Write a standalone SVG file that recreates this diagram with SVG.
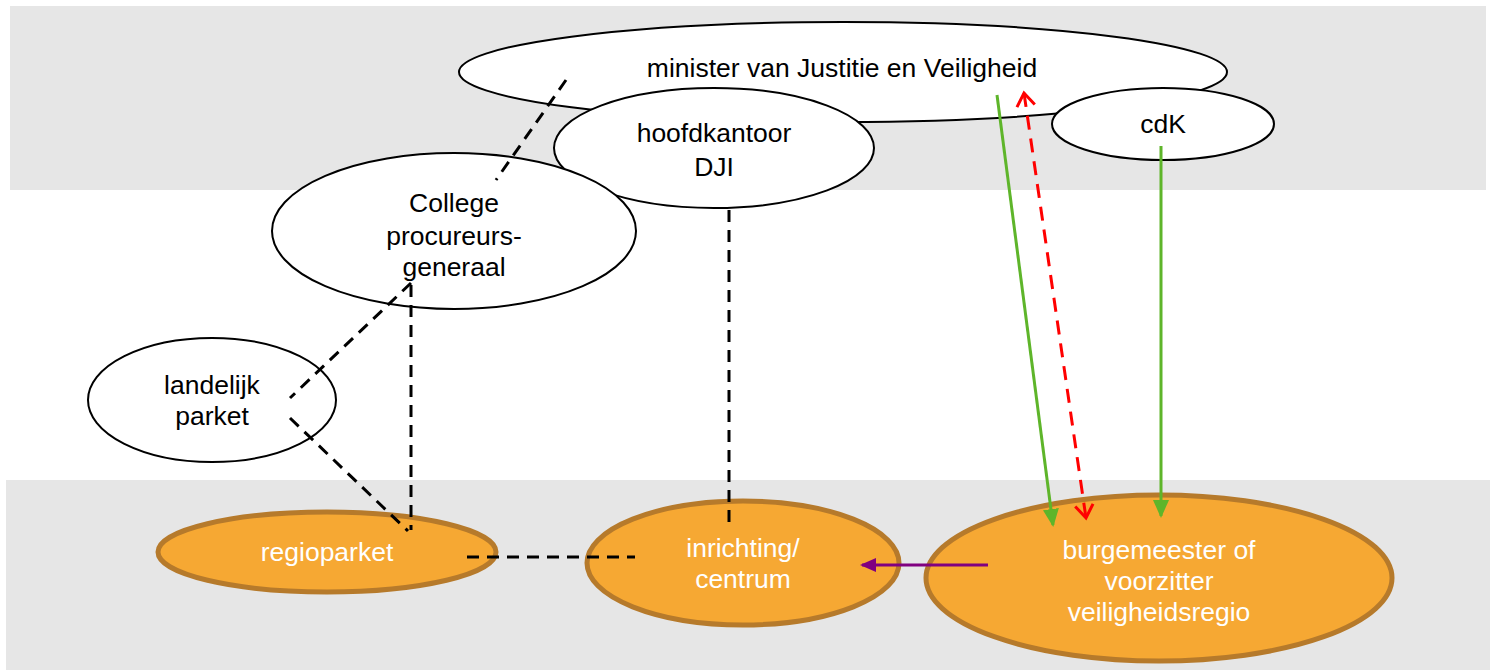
<svg xmlns="http://www.w3.org/2000/svg" width="1496" height="670" viewBox="0 0 1496 670">
<defs>
<style>
.w{fill:#fff;stroke:#000;stroke-width:2}
.o{fill:#f6a833;stroke:#b67a2b;stroke-width:5}
.t{font-family:"Liberation Sans",Arial,sans-serif;font-size:26.5px;text-anchor:middle;fill:#000}
.tw{font-family:"Liberation Sans",Arial,sans-serif;font-size:26.5px;text-anchor:middle;fill:#fff}
.d{stroke:#000;stroke-width:3;stroke-dasharray:12 8;fill:none}
.g{stroke:#5eb52a;stroke-width:3;fill:none}
.r{stroke:#ff0000;stroke-width:3;stroke-dasharray:14 9;fill:none}
.p{stroke:#800080;stroke-width:3;fill:none}
</style>
<marker id="ag" markerWidth="18" markerHeight="16" refX="16" refY="8" orient="auto" markerUnits="userSpaceOnUse" viewBox="0 0 18 16"><path d="M0,0 L18,8 L0,16 z" fill="#5eb52a"/></marker>
<marker id="ar" markerWidth="18" markerHeight="22" refX="15" refY="11" orient="auto-start-reverse" markerUnits="userSpaceOnUse" viewBox="0 0 18 22"><path d="M2,2 L15,11 L2,20" fill="none" stroke="#ff0000" stroke-width="3"/></marker>
<marker id="ap" markerWidth="16" markerHeight="14" refX="14" refY="7" orient="auto" markerUnits="userSpaceOnUse" viewBox="0 0 16 14"><path d="M0,0 L16,7 L0,14 z" fill="#800080"/></marker>
</defs>
<rect x="10" y="6" width="1476" height="184" fill="#e6e6e6"/>
<rect x="6" y="480" width="1484" height="190" fill="#e6e6e6"/>
<g id="minister"><ellipse class="w" cx="843" cy="72" rx="384" ry="50"/><text class="t" x="842" y="77">minister van Justitie en Veiligheid</text></g>
<g id="cdk"><ellipse class="w" cx="1163" cy="124" rx="111" ry="36"/><text class="t" x="1163" y="133">cdK</text></g>
<g id="dji"><ellipse class="w" cx="714" cy="148" rx="160" ry="60"/><text class="t" x="714" y="142">hoofdkantoor</text><text class="t" x="714" y="176">DJI</text></g>
<g id="college"><ellipse class="w" cx="454" cy="231" rx="182" ry="78"/><text class="t" x="454" y="212">College</text><text class="t" x="454" y="245">procureurs-</text><text class="t" x="454" y="276">generaal</text></g>
<g id="landelijk"><ellipse class="w" cx="212" cy="400" rx="124" ry="62"/><text class="t" x="212" y="394">landelijk</text><text class="t" x="212" y="425">parket</text></g>
<g id="regioparket"><ellipse class="o" cx="327" cy="552" rx="169" ry="40"/><text class="tw" x="327" y="561">regioparket</text></g>
<g id="inrichting"><ellipse class="o" cx="743" cy="563" rx="156" ry="62"/><text class="tw" x="743" y="557">inrichting/</text><text class="tw" x="743" y="588">centrum</text></g>
<g id="burgemeester"><ellipse class="o" cx="1159" cy="578" rx="233" ry="83"/><text class="tw" x="1159" y="559">burgemeester of</text><text class="tw" x="1159" y="590">voorzitter</text><text class="tw" x="1159" y="621">veiligheidsregio</text></g>
<g id="connectors">
<line class="d" x1="566" y1="80" x2="496" y2="180"/>
<line class="d" x1="411" y1="283" x2="290" y2="398"/>
<line class="d" x1="290" y1="418" x2="408" y2="531"/>
<line class="d" x1="411" y1="285" x2="411" y2="530"/>
<line class="d" x1="467" y1="557" x2="635" y2="557"/>
<line class="d" x1="729" y1="210" x2="729" y2="524"/>
<line class="g" x1="997" y1="95" x2="1053" y2="525" marker-end="url(#ag)"/>
<line class="g" x1="1161" y1="146" x2="1161" y2="516" marker-end="url(#ag)"/>
<line class="r" x1="1024" y1="93" x2="1086" y2="518" marker-start="url(#ar)" marker-end="url(#ar)"/>
<line class="p" x1="988" y1="565" x2="862" y2="565" marker-end="url(#ap)"/>
</g>
</svg>
